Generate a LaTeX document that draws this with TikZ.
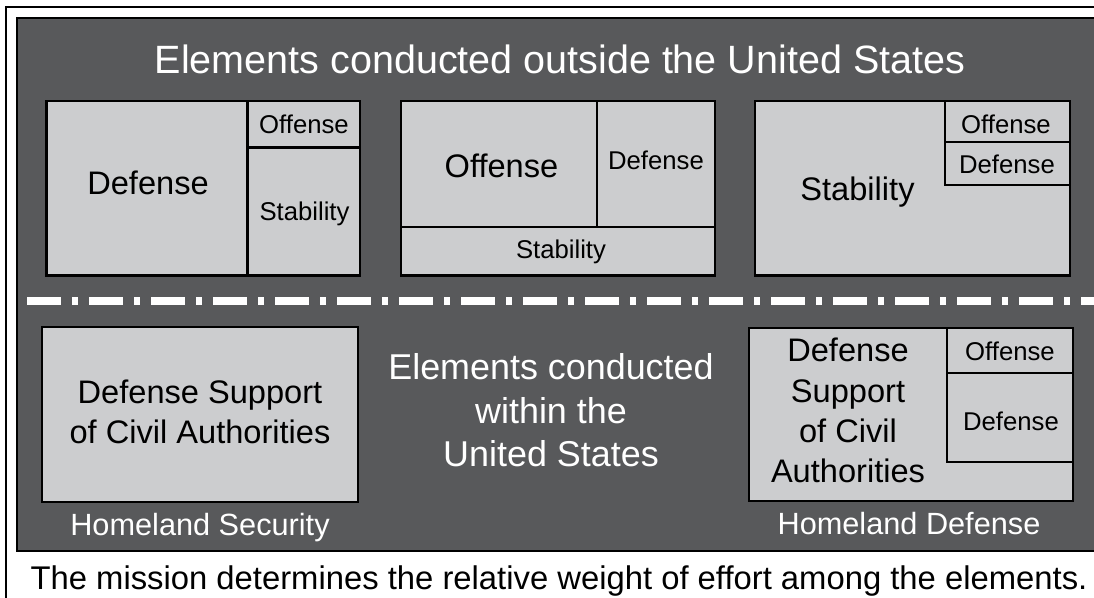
\documentclass[tikz,border=0pt]{standalone}
\usepackage{fontspec}
\setmainfont{Liberation Sans}
\definecolor{panelgray}{RGB}{88,89,91}
\definecolor{boxgray}{RGB}{204,205,207}
\tikzset{
  cell/.style={draw=black, line width=2.6pt, fill=boxgray},
  divider/.style={draw=black, line width=2.6pt},
  lbl/.style={inner sep=0pt, anchor=base, align=center},
  bigtxt/.style={lbl, font=\fontsize{32.6}{40.3}\selectfont},
  smalltxt/.style={lbl, font=\fontsize{25.7}{31}\selectfont},
  headtxt/.style={lbl, text=white, font=\fontsize{39.5}{47}\selectfont},
  midtxt/.style={lbl, text=white, font=\fontsize{35.9}{43.7}\selectfont},
  foottxt/.style={lbl, text=white, font=\fontsize{30.7}{37}\selectfont},
  captxt/.style={lbl, font=\fontsize{32.8}{40}\selectfont},
}
\begin{document}
\begin{tikzpicture}[x=1pt,y=-1pt]
\useasboundingbox (0,0) rectangle (1094,597);
% outer frame and dark panel
\draw[black, line width=2pt] (6,7) rectangle (1110,615);
\draw[fill=panelgray, draw=black, line width=2pt] (17,18) rectangle (1110,551);

% heading
\node[headtxt] (head) at (560,73) {Elements conducted outside the United States};

% block 1: defense dominant
\draw[cell] (46.5,101) rectangle (360,275.5);
\draw[divider] (247.5,101) -- (247.5,275.5);
\draw[divider] (247.5,147.5) -- (360,147.5);
\node[bigtxt] (b1def) at (148,194) {Defense};
\node[smalltxt] (b1off) at (304,133) {Offense};
\node[smalltxt] (b1sta) at (304.5,220) {Stability};

% block 2: offense dominant
\draw[cell] (401,101) rectangle (715,275.5);
\draw[divider] (597,101) -- (597,227);
\draw[divider] (401,227) -- (715,227);
\node[bigtxt] (b2off) at (501.5,177) {Offense};
\node[smalltxt] (b2def) at (656,169) {Defense};
\node[smalltxt] (b2sta) at (561,258) {Stability};

% block 3: stability dominant
\draw[cell] (755,101) rectangle (1070,275.5);
\draw[divider] (945,101) -- (945,185) -- (1070,185);
\draw[divider] (945,142) -- (1070,142);
\node[bigtxt] (b3sta) at (857.5,200.5) {Stability};
\node[smalltxt] (b3off) at (1006,133) {Offense};
\node[smalltxt] (b3def) at (1007,173) {Defense};

% boundary between outside and within
\draw[white, line width=8pt, dash pattern=on 34pt off 11pt on 6pt off 11pt] (27,301) -- (1110,301);

% homeland security (multi-line labels sit on the baseline of their last line)
\draw[cell] (42,327) rectangle (358,502);
\node[bigtxt] (hsdsca) at (200,443.3) {Defense Support\\of Civil Authorities};
\node[foottxt] (hslbl) at (200,535) {Homeland Security};

% within the United States
\node[midtxt] (mid) at (551,466.7) {Elements conducted\\within the\\United States};

% homeland defense
\draw[cell] (749,328) rectangle (1073,501);
\draw[divider] (947,328) -- (947,462) -- (1073,462);
\draw[divider] (947,373) -- (1073,373);
\node[bigtxt] (hddsca) at (848,482.7) {Defense\\Support\\of Civil\\Authorities};
\node[smalltxt] (hdoff) at (1010,360) {Offense};
\node[smalltxt] (hddef) at (1011,430.7) {Defense};
\node[foottxt] (hdlbl) at (909,534) {Homeland Defense};

% caption
\node[captxt] (cap) at (559,589) {The mission determines the relative weight of effort among the elements.};
\end{tikzpicture}
\end{document}
